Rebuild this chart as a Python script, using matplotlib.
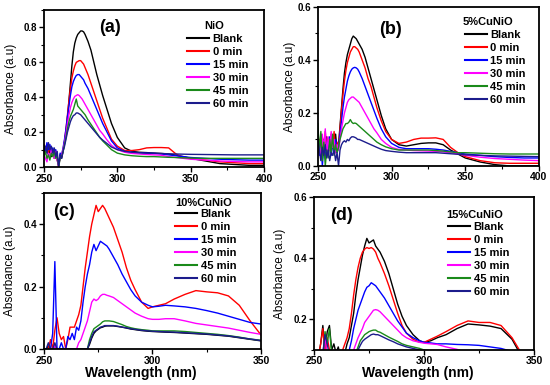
import matplotlib
matplotlib.use("Agg")
import matplotlib.pyplot as plt
from matplotlib.ticker import MultipleLocator, FormatStrFormatter

plt.rcParams["font.family"] = ["Liberation Sans", "DejaVu Sans"]

LABELS = ["Blank", "0 min", "15 min", "30 min", "45 min", "60 min"]
COLORS = ["#000000", "#ff0000", "#0000ff", "#ff00ff", "#1a8a1a", "#1c1c8c"]

# wavelength grid for panels (a) and (b)
WL_AB = [250, 251, 252, 253, 254, 255, 256, 257, 258, 259, 260, 261, 262, 263, 264,
         265, 266, 267, 268, 269, 270, 271, 272, 273, 274, 275, 276, 277, 278,
         280, 282, 284, 286, 288, 290, 293, 296, 300, 305, 310, 315, 320, 325,
         330, 335, 340, 345, 350, 360, 370, 380, 390, 400]

# (a) NiO
A_BLANK = [0.10, 0.08, 0.12, 0.07, 0.10, 0.06, 0.09, 0.05, 0.08, 0.04, 0.01, 0.06, 0.05, 0.09, 0.14,
           0.20, 0.28, 0.38, 0.48, 0.58, 0.66, 0.71, 0.74, 0.76, 0.77, 0.78, 0.78, 0.775, 0.76,
           0.72, 0.67, 0.60, 0.53, 0.47, 0.41, 0.33, 0.25, 0.17, 0.11, 0.09, 0.085, 0.083, 0.08,
           0.078, 0.075, 0.068, 0.06, 0.05, 0.035, 0.02, 0.015, 0.01, 0.01]
A_0 = [0.13, 0.10, 0.12, 0.08, 0.12, 0.07, 0.10, 0.06, 0.09, 0.05, 0.00, 0.07, 0.06, 0.10, 0.15,
       0.22, 0.30, 0.38, 0.45, 0.51, 0.55, 0.58, 0.60, 0.605, 0.61, 0.61, 0.60, 0.59, 0.57,
       0.53, 0.48, 0.43, 0.38, 0.33, 0.28, 0.22, 0.16, 0.12, 0.095, 0.095, 0.10, 0.11, 0.112,
       0.112, 0.11, 0.075, 0.055, 0.05, 0.04, 0.03, 0.025, 0.02, 0.02]
A_15 = [0.12, 0.09, 0.14, 0.10, 0.13, 0.08, 0.11, 0.07, 0.10, 0.06, 0.01, 0.08, 0.07, 0.11, 0.16,
        0.22, 0.29, 0.35, 0.41, 0.46, 0.49, 0.51, 0.525, 0.53, 0.53, 0.52, 0.51, 0.50, 0.48,
        0.45, 0.41, 0.37, 0.33, 0.29, 0.25, 0.20, 0.15, 0.11, 0.09, 0.085, 0.082, 0.08, 0.078,
        0.075, 0.07, 0.065, 0.06, 0.055, 0.05, 0.045, 0.042, 0.04, 0.04]
A_30 = [0.07, 0.05, 0.03, 0.08, 0.06, 0.10, 0.07, 0.05, 0.09, 0.04, 0.00, 0.06, 0.07, 0.10, 0.14,
        0.19, 0.25, 0.30, 0.34, 0.37, 0.39, 0.405, 0.41, 0.415, 0.41, 0.40, 0.39, 0.375, 0.36,
        0.33, 0.30, 0.27, 0.24, 0.21, 0.19, 0.155, 0.125, 0.10, 0.085, 0.078, 0.075, 0.072, 0.07,
        0.068, 0.06, 0.055, 0.05, 0.045, 0.04, 0.035, 0.032, 0.03, 0.03]
A_45 = [0.06, 0.09, 0.05, 0.07, 0.04, 0.08, 0.06, 0.09, 0.05, 0.07, 0.00, 0.05, 0.06, 0.09, 0.13,
        0.17, 0.22, 0.26, 0.29, 0.31, 0.33, 0.36, 0.39, 0.35, 0.34, 0.33, 0.32, 0.31, 0.30,
        0.27, 0.245, 0.22, 0.195, 0.17, 0.15, 0.125, 0.10, 0.08, 0.07, 0.065, 0.062, 0.06, 0.06,
        0.058, 0.056, 0.055, 0.053, 0.052, 0.05, 0.05, 0.05, 0.05, 0.05]
A_60 = [0.10, 0.12, 0.08, 0.14, 0.10, 0.12, 0.08, 0.11, 0.06, 0.09, 0.00, 0.07, 0.05, 0.09, 0.12,
        0.16, 0.20, 0.23, 0.26, 0.28, 0.295, 0.30, 0.31, 0.31, 0.305, 0.30, 0.29, 0.28, 0.27,
        0.25, 0.23, 0.21, 0.19, 0.17, 0.155, 0.135, 0.115, 0.10, 0.09, 0.085, 0.082, 0.08, 0.08,
        0.078, 0.076, 0.075, 0.074, 0.073, 0.072, 0.071, 0.07, 0.07, 0.07]

# (b) 5%CuNiO
B_BLANK = [0.09, 0.05, 0.12, 0.03, 0.10, 0.06, 0.11, 0.04, 0.09, 0.05, 0.10, 0.07, 0.12, 0.06, 0.08,
           0.15, 0.22, 0.29, 0.35, 0.39, 0.42, 0.44, 0.46, 0.48, 0.49, 0.485, 0.48, 0.47, 0.46,
           0.44, 0.41, 0.37, 0.33, 0.29, 0.25, 0.19, 0.14, 0.10, 0.08, 0.075, 0.08, 0.085, 0.087,
           0.087, 0.08, 0.06, 0.045, 0.03, 0.015, 0.005, 0.0, 0.0, 0.0]
B_0 = [0.06, 0.10, 0.04, 0.11, 0.07, 0.13, 0.05, 0.10, 0.06, 0.12, 0.08, 0.13, 0.05, 0.09, 0.07,
       0.14, 0.21, 0.27, 0.32, 0.36, 0.39, 0.41, 0.43, 0.44, 0.45, 0.45, 0.445, 0.44, 0.43,
       0.40, 0.37, 0.33, 0.30, 0.26, 0.22, 0.17, 0.13, 0.10, 0.085, 0.09, 0.10, 0.105, 0.105,
       0.106, 0.10, 0.07, 0.05, 0.035, 0.02, 0.012, 0.01, 0.01, 0.01]
B_15 = [0.08, 0.04, 0.10, 0.00, 0.07, 0.03, 0.09, 0.05, 0.11, 0.04, 0.08, 0.06, 0.10, 0.05, 0.07,
        0.12, 0.17, 0.22, 0.26, 0.29, 0.32, 0.34, 0.355, 0.365, 0.37, 0.372, 0.37, 0.365, 0.355,
        0.33, 0.30, 0.27, 0.24, 0.21, 0.18, 0.14, 0.11, 0.085, 0.07, 0.065, 0.065, 0.065, 0.065,
        0.063, 0.06, 0.055, 0.05, 0.045, 0.04, 0.035, 0.032, 0.03, 0.03]
B_30 = [0.05, 0.09, 0.03, 0.12, 0.06, 0.14, 0.04, 0.11, 0.06, 0.13, 0.07, 0.10, 0.05, 0.08, 0.06,
        0.10, 0.14, 0.17, 0.20, 0.22, 0.24, 0.25, 0.255, 0.26, 0.26, 0.255, 0.25, 0.245, 0.24,
        0.22, 0.20, 0.18, 0.16, 0.14, 0.125, 0.10, 0.085, 0.07, 0.062, 0.06, 0.058, 0.057, 0.056,
        0.055, 0.053, 0.05, 0.045, 0.04, 0.033, 0.028, 0.025, 0.022, 0.02]
B_45 = [0.16, 0.05, 0.13, 0.02, 0.09, 0.00, 0.06, 0.03, 0.10, 0.05, 0.12, 0.04, 0.08, 0.05, 0.07,
        0.10, 0.12, 0.14, 0.15, 0.16, 0.16, 0.165, 0.175, 0.165, 0.16, 0.162, 0.16, 0.155, 0.15,
        0.14, 0.13, 0.12, 0.11, 0.10, 0.09, 0.08, 0.072, 0.065, 0.06, 0.06, 0.06, 0.06, 0.06,
        0.058, 0.056, 0.053, 0.05, 0.05, 0.048, 0.046, 0.045, 0.045, 0.045]
B_60 = [0.10, 0.06, 0.02, 0.07, 0.04, 0.08, 0.03, 0.06, 0.02, 0.05, 0.04, 0.06, 0.02, 0.05, 0.00,
        0.06, 0.08, 0.09, 0.095, 0.09, 0.10, 0.095, 0.105, 0.11, 0.11, 0.108, 0.105, 0.10, 0.10,
        0.095, 0.09, 0.085, 0.08, 0.075, 0.07, 0.063, 0.058, 0.055, 0.052, 0.05, 0.05, 0.05, 0.05,
        0.05, 0.048, 0.046, 0.044, 0.042, 0.04, 0.038, 0.037, 0.036, 0.035]

# wavelength grid for panels (c) and (d)
WL_CD = [250, 251, 252, 253, 254, 255, 256, 257, 258, 259, 260, 261, 262, 263, 264, 265,
         266, 267, 268, 269, 270, 271, 272, 273, 274, 275, 276, 277, 278, 279, 280,
         282, 284, 286, 288, 290, 292, 295, 298, 300, 303, 306, 310, 315, 320, 325,
         330, 335, 340, 345, 350]

# (c) 10%CuNiO
C_BLANK = [0.0, 0.0, 0.01, 0.0, 0.0, 0.01, 0.0, 0.0, 0.0, 0.0, 0.0, 0.0, 0.0, 0.0, 0.0, 0.0,
           0.0, 0.0, 0.0, 0.0, 0.0, 0.015, 0.035, 0.05, 0.058, 0.063, 0.068, 0.07, 0.073, 0.074, 0.074,
           0.074, 0.072, 0.07, 0.067, 0.064, 0.062, 0.059, 0.057, 0.056, 0.055, 0.054, 0.053, 0.051, 0.049, 0.047,
           0.044, 0.041, 0.036, 0.031, 0.026]
C_0 = [0.0, 0.0, 0.0, 0.03, 0.0, 0.06, 0.10, 0.05, 0.03, 0.04, 0.0, 0.03, 0.07, 0.07, 0.07, 0.09,
       0.11, 0.14, 0.20, 0.26, 0.31, 0.36, 0.40, 0.43, 0.46, 0.44, 0.45, 0.46, 0.45, 0.435, 0.42,
       0.39, 0.35, 0.31, 0.26, 0.22, 0.19, 0.15, 0.13, 0.135, 0.14, 0.145, 0.16, 0.175, 0.187, 0.183,
       0.18, 0.17, 0.14, 0.09, 0.045]
C_15 = [0.0, 0.0, 0.0, 0.0, 0.05, 0.28, 0.0, 0.0, 0.02, 0.0, 0.0, 0.04, 0.03, 0.05, 0.03, 0.07,
        0.06, 0.09, 0.15, 0.20, 0.24, 0.27, 0.31, 0.335, 0.315, 0.33, 0.345, 0.34, 0.335, 0.33, 0.32,
        0.295, 0.27, 0.24, 0.215, 0.19, 0.17, 0.15, 0.14, 0.135, 0.137, 0.14, 0.138, 0.135, 0.13, 0.123,
        0.115, 0.105, 0.095, 0.085, 0.08]
C_30 = [0.0, 0.0, 0.0, 0.0, 0.0, 0.01, 0.0, 0.0, 0.0, 0.0, 0.0, 0.0, 0.0, 0.0, 0.0, 0.0,
        0.02, 0.03, 0.05, 0.07, 0.09, 0.12, 0.15, 0.16, 0.155, 0.16, 0.17, 0.175, 0.175, 0.172, 0.17,
        0.165, 0.155, 0.145, 0.135, 0.125, 0.115, 0.105, 0.097, 0.095, 0.095, 0.097, 0.097, 0.09, 0.082, 0.077,
        0.072, 0.067, 0.06, 0.053, 0.047]
C_45 = [0.0, 0.0, 0.0, 0.0, 0.0, 0.0, 0.0, 0.0, 0.0, 0.0, 0.0, 0.0, 0.0, 0.0, 0.0, 0.0,
        0.0, 0.0, 0.0, 0.0, 0.0, 0.03, 0.05, 0.065, 0.07, 0.075, 0.08, 0.087, 0.09, 0.09, 0.09,
        0.088, 0.083, 0.078, 0.072, 0.068, 0.065, 0.062, 0.06, 0.058, 0.058, 0.058, 0.058, 0.056, 0.053, 0.05,
        0.047, 0.043, 0.038, 0.032, 0.028]
C_60 = [0.0, 0.0, 0.02, 0.0, 0.0, 0.02, 0.0, 0.0, 0.0, 0.0, 0.0, 0.0, 0.0, 0.0, 0.0, 0.0,
        0.0, 0.0, 0.0, 0.0, 0.0, 0.02, 0.04, 0.055, 0.06, 0.065, 0.07, 0.072, 0.075, 0.075, 0.075,
        0.075, 0.073, 0.07, 0.068, 0.065, 0.063, 0.06, 0.058, 0.057, 0.056, 0.055, 0.054, 0.052, 0.05, 0.048,
        0.045, 0.042, 0.037, 0.032, 0.027]

# (d) 15%CuNiO
D_BLANK = [0.0, 0.05, 0.08, 0.12, 0.18, 0.10, 0.16, 0.18, 0.10, 0.12, 0.09, 0.11, 0.08, 0.07, 0.09, 0.12,
           0.14, 0.18, 0.22, 0.28, 0.33, 0.37, 0.41, 0.44, 0.465, 0.45, 0.455, 0.46, 0.44, 0.43, 0.42,
           0.39, 0.35, 0.30, 0.25, 0.21, 0.18, 0.15, 0.13, 0.125, 0.13, 0.14, 0.15, 0.17, 0.185, 0.182,
           0.178, 0.17, 0.135, 0.07, 0.05]
D_0 = [0.05, 0.0, 0.08, 0.12, 0.17, 0.08, 0.14, 0.10, 0.06, 0.05, 0.04, 0.06, 0.08, 0.10, 0.12, 0.14,
       0.17, 0.22, 0.28, 0.33, 0.37, 0.40, 0.42, 0.43, 0.435, 0.432, 0.435, 0.43, 0.42, 0.40, 0.385,
       0.35, 0.31, 0.265, 0.22, 0.18, 0.155, 0.135, 0.125, 0.125, 0.135, 0.145, 0.16, 0.18, 0.195, 0.19,
       0.19, 0.18, 0.14, 0.08, 0.05]
D_15 = [0.05, 0.05, 0.05, 0.05, 0.08, 0.05, 0.05, 0.05, 0.05, 0.05, 0.05, 0.05, 0.05, 0.05, 0.06, 0.08,
        0.10, 0.13, 0.17, 0.20, 0.23, 0.25, 0.27, 0.29, 0.305, 0.31, 0.32, 0.315, 0.31, 0.30, 0.29,
        0.27, 0.245, 0.22, 0.195, 0.175, 0.155, 0.14, 0.13, 0.125, 0.123, 0.12, 0.12, 0.118, 0.117, 0.115,
        0.11, 0.105, 0.095, 0.08, 0.06]
D_30 = [0.05, 0.05, 0.05, 0.05, 0.08, 0.15, 0.06, 0.05, 0.05, 0.05, 0.05, 0.05, 0.05, 0.05, 0.05, 0.05,
        0.06, 0.08, 0.10, 0.12, 0.14, 0.155, 0.17, 0.19, 0.20, 0.21, 0.22, 0.23, 0.232, 0.23, 0.225,
        0.21, 0.195, 0.18, 0.165, 0.15, 0.14, 0.13, 0.125, 0.122, 0.12, 0.118, 0.11, 0.102, 0.09, 0.08,
        0.07, 0.06, 0.05, 0.05, 0.05]
D_45 = [0.05, 0.05, 0.05, 0.05, 0.08, 0.16, 0.12, 0.17, 0.09, 0.05, 0.05, 0.05, 0.05, 0.05, 0.05, 0.05,
        0.05, 0.05, 0.07, 0.09, 0.11, 0.13, 0.14, 0.15, 0.155, 0.16, 0.163, 0.165, 0.165, 0.16, 0.158,
        0.15, 0.142, 0.135, 0.128, 0.12, 0.115, 0.11, 0.105, 0.10, 0.097, 0.095, 0.09, 0.08, 0.07, 0.06,
        0.05, 0.05, 0.05, 0.05, 0.05]
D_60 = [0.05, 0.05, 0.05, 0.05, 0.09, 0.15, 0.12, 0.08, 0.05, 0.05, 0.05, 0.05, 0.05, 0.05, 0.05, 0.05,
        0.05, 0.05, 0.05, 0.08, 0.10, 0.115, 0.128, 0.135, 0.14, 0.145, 0.15, 0.152, 0.15, 0.15, 0.147,
        0.14, 0.133, 0.127, 0.12, 0.115, 0.11, 0.105, 0.10, 0.098, 0.095, 0.09, 0.085, 0.075, 0.065, 0.06,
        0.05, 0.05, 0.05, 0.05, 0.05]

PANELS = [
    dict(tag="(a)", title="NiO", wl=WL_AB, series=[A_BLANK, A_0, A_15, A_30, A_45, A_60],
         pos=[0.080, 0.566, 0.400, 0.408], xlim=(250, 400), ylim=(0, 0.9),
         tagpos=(0.30, 0.89), titlepos=(0.773, 0.898), legpos=(0.65, 0.845),
         ylab=-0.123, xlab=None),
    dict(tag="(b)", title="5%CuNiO", wl=WL_AB, series=[B_BLANK, B_0, B_15, B_30, B_45, B_60],
         pos=[0.578, 0.569, 0.402, 0.413], xlim=(250, 400), ylim=(0, 0.6),
         tagpos=(0.33, 0.855), titlepos=(0.769, 0.906), legpos=(0.665, 0.853),
         ylab=-0.10, xlab=None),
    dict(tag="(c)", title="10%CuNiO", wl=WL_CD, series=[C_BLANK, C_0, C_15, C_30, C_45, C_60],
         pos=[0.080, 0.0935, 0.3945, 0.4055], xlim=(250, 350), ylim=(0, 0.5),
         tagpos=(0.092, 0.878), titlepos=(0.737, 0.936), legpos=(0.604, 0.898),
         ylab=-0.129, xlab=(0.447, -0.112)),
    dict(tag="(d)", title="15%CuNiO", wl=WL_CD, series=[D_BLANK, D_0, D_15, D_30, D_45, D_60],
         pos=[0.571, 0.091, 0.400, 0.397], xlim=(250, 350), ylim=(0.1, 0.6),
         tagpos=(0.123, 0.88), titlepos=(0.732, 0.882), legpos=(0.609, 0.840),
         ylab=-0.127, xlab=(0.47, -0.108)),
]

fig = plt.figure(figsize=(5.5, 3.85), dpi=100)

for p in PANELS:
    ax = fig.add_axes(p["pos"])
    for vals, lab, col in zip(p["series"], LABELS, COLORS):
        ax.plot(p["wl"], vals, color=col, lw=1.0, label=lab)
    ax.set_xlim(*p["xlim"])
    ax.set_ylim(*p["ylim"])
    ax.xaxis.set_major_locator(MultipleLocator(50))
    ax.xaxis.set_minor_locator(MultipleLocator(25))
    ax.yaxis.set_major_locator(MultipleLocator(0.2))
    ax.yaxis.set_minor_locator(MultipleLocator(0.1))
    ax.yaxis.set_major_formatter(FormatStrFormatter("%.1f"))
    ax.tick_params(which="major", direction="out", length=3.5, width=1.0, pad=1.2)
    ax.tick_params(which="minor", direction="out", length=2, width=0.8)
    ax.tick_params(axis="x", labelsize=7.5)
    ax.tick_params(axis="y", labelsize=7)
    for lbl in ax.get_xticklabels() + ax.get_yticklabels():
        lbl.set_fontweight("bold")
    for s in ax.spines.values():
        s.set_linewidth(1.3)

    ax.set_ylabel("Absorbance (a.u)", fontsize=8.5)
    ax.yaxis.set_label_coords(p["ylab"], 0.5)
    if p["xlab"]:
        ax.set_xlabel("Wavelength (nm)", fontsize=10, fontweight="bold")
        ax.xaxis.set_label_coords(*p["xlab"])

    ax.text(p["tagpos"][0], p["tagpos"][1], p["tag"], transform=ax.transAxes,
            ha="center", va="center", fontsize=13, fontweight="bold")
    ax.text(p["titlepos"][0], p["titlepos"][1], p["title"], transform=ax.transAxes,
            ha="center", va="center", fontsize=8, fontweight="bold")

    leg = ax.legend(loc="upper left", bbox_to_anchor=p["legpos"],
                    frameon=False, prop=dict(weight="bold", size=8),
                    handlelength=2.0, handletextpad=0.3, labelspacing=0.27,
                    borderpad=0, borderaxespad=0)
    for h in leg.get_lines():
        h.set_linewidth(1.5)

fig.savefig("out.png", dpi=100)
